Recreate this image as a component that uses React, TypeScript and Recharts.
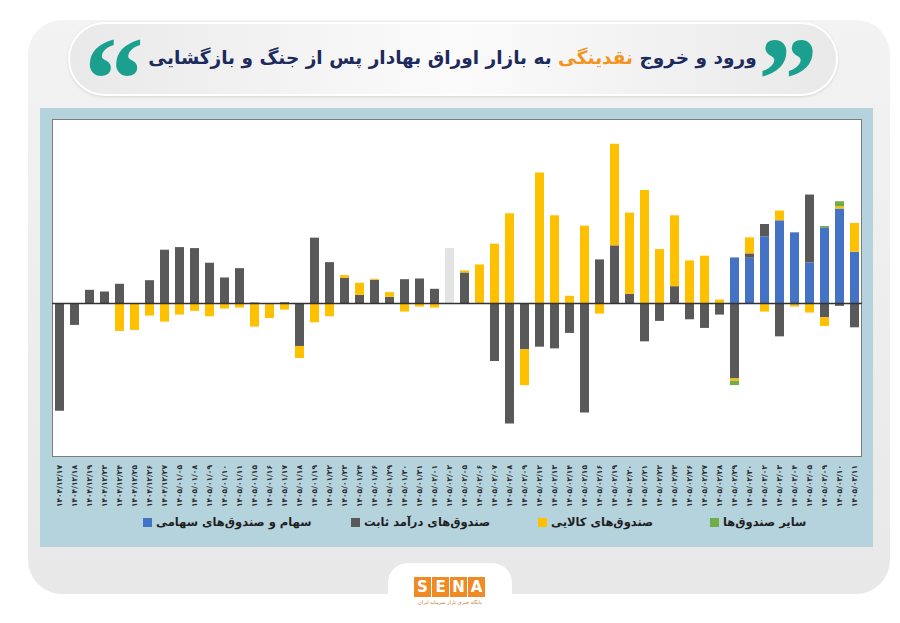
import React from 'react';
import { BarChart, Bar, XAxis, YAxis, ReferenceLine, Cell } from 'recharts';

// trading days (Persian calendar)
const dates = [
  '۱۴۰۴/۱۲/۱۷', '۱۴۰۴/۱۲/۱۸', '۱۴۰۴/۱۲/۱۹', '۱۴۰۴/۱۲/۲۳', '۱۴۰۴/۱۲/۲۴', '۱۴۰۴/۱۲/۲۵',
  '۱۴۰۴/۱۲/۲۶', '۱۴۰۴/۱۲/۲۷', '۱۴۰۵/۰۱/۰۵', '۱۴۰۵/۰۱/۰۸', '۱۴۰۵/۰۱/۰۹', '۱۴۰۵/۰۱/۱۰',
  '۱۴۰۵/۰۱/۱۱', '۱۴۰۵/۰۱/۱۵', '۱۴۰۵/۰۱/۱۶', '۱۴۰۵/۰۱/۱۷', '۱۴۰۵/۰۱/۱۸', '۱۴۰۵/۰۱/۱۹',
  '۱۴۰۵/۰۱/۲۲', '۱۴۰۵/۰۱/۲۳', '۱۴۰۵/۰۱/۲۴', '۱۴۰۵/۰۱/۲۶', '۱۴۰۵/۰۱/۲۹', '۱۴۰۵/۰۱/۳۰',
  '۱۴۰۵/۰۱/۳۱', '۱۴۰۵/۰۲/۰۱', '۱۴۰۵/۰۲/۰۲', '۱۴۰۵/۰۲/۰۵', '۱۴۰۵/۰۲/۰۶', '۱۴۰۵/۰۲/۰۷',
  '۱۴۰۵/۰۲/۰۸', '۱۴۰۵/۰۲/۰۹', '۱۴۰۵/۰۲/۱۲', '۱۴۰۵/۰۲/۱۳', '۱۴۰۵/۰۲/۱۴', '۱۴۰۵/۰۲/۱۵',
  '۱۴۰۵/۰۲/۱۶', '۱۴۰۵/۰۲/۱۹', '۱۴۰۵/۰۲/۲۰', '۱۴۰۵/۰۲/۲۱', '۱۴۰۵/۰۲/۲۲', '۱۴۰۵/۰۲/۲۳',
  '۱۴۰۵/۰۲/۲۶', '۱۴۰۵/۰۲/۲۷', '۱۴۰۵/۰۲/۲۸', '۱۴۰۵/۰۲/۲۹', '۱۴۰۵/۰۲/۳۰', '۱۴۰۵/۰۳/۰۲',
  '۱۴۰۵/۰۳/۰۳', '۱۴۰۵/۰۳/۰۴', '۱۴۰۵/۰۳/۰۵', '۱۴۰۵/۰۳/۰۹', '۱۴۰۵/۰۳/۱۰', '۱۴۰۵/۰۳/۱۱',
];

// سهام و صندوق‌های سهامی
const equity = [
  0, 0, 0, 0, 0, 0, 0, 0, 0, 0, 0, 0, 0, 0, 0, 0, 0, 0,
  0, 0, 0, 0, 0, 0, 0, 0, 0, 0, 0, 0, 0, 0, 0, 0, 0, 0,
  0, 0, 0, 0, 0, 0, 0, 0, 0, 46, 45.7, 67, 83, 71, 41, 76, 94.7, 51.7,
];

// صندوق‌های درآمد ثابت
const fixedIncome = [
  -107, -21.3, 13.7, 12, 19.7, 0, 23.3, 53.7, 56.3, 55.3, 40.7, 26, 35.3, 1, -0.7, 1.3, -42.3, 65.7,
  41.3, 25.7, 8.7, 23.7, 6.7, 24.3, 25, 14.7, 55.3, 31, 0.7, -57.3, -119.7, -45.7, -43, -44.7, -29.3, -108.7,
  44, 58, 9.7, -37.7, -17.3, 17.3, -15.7, -24.3, -11, -74.7, 4.3, 12.3, -32.7, -1, 67.7, -13.7, -2.3, -23.7,
];

// صندوق‌های کالایی
const commodity = [
  0, 0, 0, 0, -27.3, -26.3, -12, -18, -11, -7.3, -12.7, -5, -4, -23, -13.7, -6, -12, -18.7,
  -12.7, 2.7, 12, 1, 4.7, -8, -3, -4, 0, 2, 38.3, 59.7, 90, -35.7, 130.7, 88, 7.7, 77.7,
  -10, 101.3, 81, 113.3, 54.3, 70.7, 43, 47.7, 4, -2.3, 16, -8, 9.7, -2, -9, -8.7, 2.3, 28.7,
];

// سایر صندوق‌ها
const otherFunds = [
  0, 0, 0, 0, 0, 0, 0, 0, 0, 0, 0, 0, 0, 0, 0, 0, 0, 0,
  0, 0, 0, 0, 0, 0, 0, 0, 0, 0, 0, 0, 0, 0, 0, 0, 0, 0,
  0, 0, 0, 0, 0, 0, 0, 0, 0, -4.3, 0, 0, 0, 0, 0, 1.3, 5, 0,
];

// the day drawn in pale grey
const pausedDay = '۱۴۰۵/۰۲/۰۲';

const COLORS = {
  equity: '#4472c4',
  fixed: '#595959',
  commodity: '#ffc000',
  other: '#70ad47',
  paused: '#e3e3e3',
};

const data = dates.map((d, i) => ({
  date: d,
  equity: equity[i],
  fixed: fixedIncome[i],
  commodity: commodity[i],
  other: otherFunds[i],
}));

const legendItems = [
  { label: 'سهام و صندوق‌های سهامی', color: COLORS.equity, left: 143 },
  { label: 'صندوق‌های درآمد ثابت', color: COLORS.fixed, left: 351 },
  { label: 'صندوق‌های کالایی', color: COLORS.commodity, left: 538 },
  { label: 'سایر صندوق‌ها', color: COLORS.other, left: 710 },
];

const DateTick = (props: any) => {
  const { x, y, payload } = props;
  return (
    <text
      x={x}
      y={y}
      transform={`rotate(-90 ${x} ${y})`}
      textAnchor="end"
      dominantBaseline="central"
      fontSize={7.5}
      fontWeight="bold"
      fill="#2b2b2b"
      fontFamily="DejaVu Sans"
    >
      {payload.value}
    </text>
  );
};

const FONT = '"DejaVu Sans", sans-serif';

const quoteStyle: React.CSSProperties = {
  position: 'absolute',
  top: 20,
  fontFamily: '"Liberation Serif", serif',
  fontWeight: 'bold',
  fontSize: 120,
  lineHeight: '120px',
  color: '#1ba08f',
};

export default function App() {
  return (
    <div
      style={{
        position: 'absolute',
        left: 0,
        top: 0,
        width: 900,
        height: 623,
        background: '#ffffff',
        overflow: 'hidden',
        fontFamily: FONT,
      }}
    >
      {/* card */}
      <div
        style={{
          position: 'absolute',
          left: 28,
          top: 20,
          width: 862,
          height: 574,
          borderRadius: 34,
          background: 'linear-gradient(180deg, #f3f3f3 0%, #e8e8e8 100%)',
        }}
      />

      {/* title pill */}
      <div
        style={{
          position: 'absolute',
          left: 68,
          top: 22,
          width: 770,
          height: 74,
          boxSizing: 'border-box',
          borderRadius: 37,
          border: '2px solid #ffffff',
          background: 'linear-gradient(90deg, #e9e9e9 0%, #fbfbfb 50%, #e9e9e9 100%)',
          boxShadow: '0 1px 3px rgba(0,0,0,0.12)',
        }}
      />
      <div style={{ ...quoteStyle, left: 84 }}>“</div>
      <div style={{ ...quoteStyle, left: 758 }}>”</div>
      <div
        style={{
          position: 'absolute',
          left: 145,
          top: 47,
          width: 615,
          textAlign: 'center',
          direction: 'rtl',
          fontSize: 18.5,
          fontWeight: 'bold',
          color: '#1c2a5c',
          whiteSpace: 'nowrap',
        }}
      >
        ورود و خروج <span style={{ color: '#f39322' }}>نقدینگی</span> به بازار اوراق بهادار پس از جنگ و بازگشایی
      </div>

      {/* chart panel */}
      <div
        style={{
          position: 'absolute',
          left: 40,
          top: 108,
          width: 833,
          height: 439,
          background: '#b5d3dd',
        }}
      />
      <div
        style={{
          position: 'absolute',
          left: 52,
          top: 119,
          width: 810,
          height: 338,
          boxSizing: 'border-box',
          border: '1px solid #7c7c7c',
          background: '#ffffff',
        }}
      />
      <div style={{ position: 'absolute', left: 52, top: 119 }}>
        <BarChart
          width={810}
          height={388}
          data={data}
          stackOffset="sign"
          barSize={9}
          margin={{ top: 0, right: 0, bottom: 0, left: 0 }}
        >
          <XAxis
            dataKey="date"
            interval={0}
            height={50}
            axisLine={false}
            tickLine={false}
            tickMargin={2}
            tick={<DateTick />}
          />
          <YAxis hide domain={[-153, 184]} allowDataOverflow />
          <Bar dataKey="equity" stackId="a" fill={COLORS.equity} isAnimationActive={false} />
          <Bar dataKey="fixed" stackId="a" fill={COLORS.fixed} isAnimationActive={false}>
            {data.map((d) => (
              <Cell key={d.date} fill={d.date === pausedDay ? COLORS.paused : COLORS.fixed} />
            ))}
          </Bar>
          <Bar dataKey="commodity" stackId="a" fill={COLORS.commodity} isAnimationActive={false} />
          <Bar dataKey="other" stackId="a" fill={COLORS.other} isAnimationActive={false} />
          <ReferenceLine y={0} stroke="#333333" strokeWidth={1.5} />
        </BarChart>
      </div>

      {/* legend */}
      {legendItems.map((item) => (
        <div
          key={item.label}
          style={{
            position: 'absolute',
            left: item.left,
            top: 512,
            display: 'flex',
            alignItems: 'center',
            height: 20,
          }}
        >
          <span style={{ width: 9, height: 9, background: item.color, display: 'inline-block', marginRight: 4 }} />
          <span style={{ direction: 'rtl', fontSize: 11.5, fontWeight: 'bold', color: '#1f1f1f', whiteSpace: 'nowrap' }}>
            {item.label}
          </span>
        </div>
      ))}

      {/* footer logo */}
      <div
        style={{
          position: 'absolute',
          left: 388,
          top: 563,
          width: 124,
          height: 90,
          borderRadius: 20,
          background: '#ffffff',
        }}
      />
      <div style={{ position: 'absolute', left: 414, top: 577, display: 'flex', gap: 1 }}>
        {['S', 'E', 'N', 'A'].map((ch) => (
          <div
            key={ch}
            style={{
              width: 17,
              height: 20,
              background: '#f08a25',
              color: '#ffffff',
              fontWeight: 'bold',
              fontSize: 15,
              lineHeight: '20px',
              textAlign: 'center',
            }}
          >
            {ch}
          </div>
        ))}
      </div>
      <div
        style={{
          position: 'absolute',
          left: 414,
          top: 599,
          width: 72,
          textAlign: 'center',
          direction: 'rtl',
          fontSize: 5,
          color: '#c8762c',
          whiteSpace: 'nowrap',
        }}
      >
        پایگاه خبری بازار سرمایه ایران
      </div>
    </div>
  );
}
